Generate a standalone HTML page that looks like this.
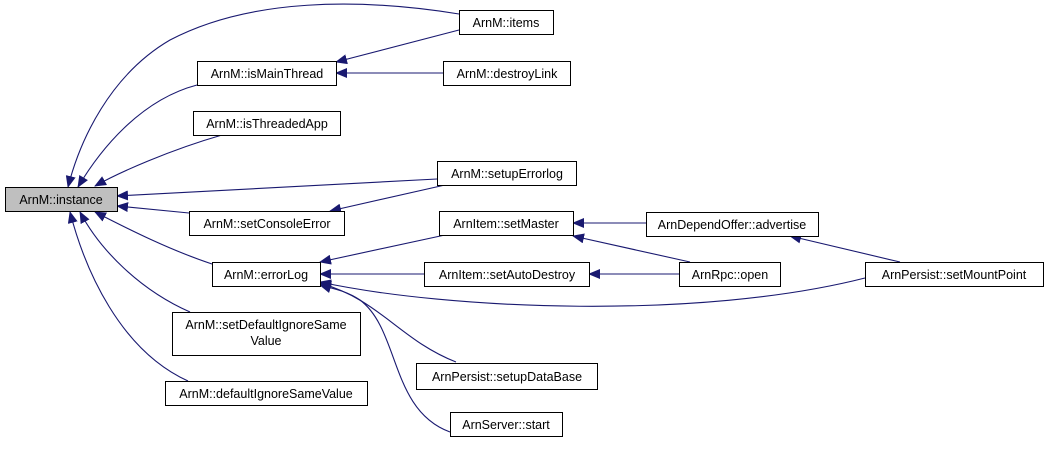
<!DOCTYPE html>
<html><head><meta charset="utf-8"><style>
body{margin:0;background:#fff;width:1048px;height:446px;overflow:hidden}
text{font-family:"Liberation Sans",Arial,sans-serif;font-size:12.5px;fill:#000}
</style></head><body>
<svg width="1048" height="446" viewBox="0 0 1048 446" xmlns="http://www.w3.org/2000/svg">
<defs><marker id="a" markerWidth="12" markerHeight="10" refX="11" refY="5" orient="auto" markerUnits="userSpaceOnUse"><path d="M0,0 L12,5 L0,10 z" fill="#191970"/></marker></defs>
<g fill="none" stroke="#191970" stroke-width="1.1" marker-end="url(#a)">
<path d="M459,14 C360,-2 250,-2 170,40 C110,75 80,140 68,187"/>
<path d="M459,30 L336,62"/>
<path d="M443,73 L336,73"/>
<path d="M197,85 C140,100 100,150 78,187"/>
<path d="M222,135 C170,150 120,172 95,186"/>
<path d="M437,179 L117,196"/>
<path d="M445,185 L330,211"/>
<path d="M189,213 L117,206"/>
<path d="M212,264 C170,250 130,230 95,212"/>
<path d="M190,312 C140,290 100,250 80,212"/>
<path d="M188,381 C120,350 85,270 70,212"/>
<path d="M445,235 L320,262"/>
<path d="M424,274 L320,274"/>
<path d="M865,278 C700,320 450,310 320,282"/>
<path d="M456,362 C400,340 380,300 320,283"/>
<path d="M450,432 C390,410 400,330 360,300 C345,290 330,288 320,285"/>
<path d="M646,223 L573,223"/>
<path d="M690,262 L573,236"/>
<path d="M679,274 L589,274"/>
<path d="M900,262 L790,236"/>
</g>
<g stroke="#000" stroke-width="1" fill="#fff">
<rect x="5.5" y="187.5" width="112" height="24" fill="#bfbfbf"/>
<rect x="459.5" y="10.5" width="94" height="24"/>
<rect x="197.5" y="61.5" width="139" height="24"/>
<rect x="443.5" y="61.5" width="127" height="24"/>
<rect x="193.5" y="111.5" width="147" height="24"/>
<rect x="437.5" y="161.5" width="139" height="24"/>
<rect x="189.5" y="211.5" width="155" height="24"/>
<rect x="439.5" y="211.5" width="134" height="24"/>
<rect x="646.5" y="212.5" width="172" height="24"/>
<rect x="212.5" y="262.5" width="108" height="24"/>
<rect x="424.5" y="262.5" width="165" height="24"/>
<rect x="679.5" y="262.5" width="101" height="24"/>
<rect x="865.5" y="262.5" width="178" height="24"/>
<rect x="172.5" y="312.5" width="188" height="43"/>
<rect x="416.5" y="363.5" width="181" height="26"/>
<rect x="165.5" y="381.5" width="202" height="24"/>
<rect x="450.5" y="412.5" width="112" height="24"/>
</g>
<g text-anchor="middle">
<text x="61" y="204">ArnM::instance</text>
<text x="506" y="27">ArnM::items</text>
<text x="267" y="78">ArnM::isMainThread</text>
<text x="507" y="78">ArnM::destroyLink</text>
<text x="267" y="128">ArnM::isThreadedApp</text>
<text x="507" y="178">ArnM::setupErrorlog</text>
<text x="267" y="228">ArnM::setConsoleError</text>
<text x="506" y="228">ArnItem::setMaster</text>
<text x="732" y="229">ArnDependOffer::advertise</text>
<text x="266" y="279">ArnM::errorLog</text>
<text x="507" y="279">ArnItem::setAutoDestroy</text>
<text x="730" y="279">ArnRpc::open</text>
<text x="954" y="279">ArnPersist::setMountPoint</text>
<text x="266" y="329">ArnM::setDefaultIgnoreSame</text>
<text x="266" y="345">Value</text>
<text x="507" y="381">ArnPersist::setupDataBase</text>
<text x="266" y="398">ArnM::defaultIgnoreSameValue</text>
<text x="506" y="429">ArnServer::start</text>
</g>
</svg>
</body></html>
